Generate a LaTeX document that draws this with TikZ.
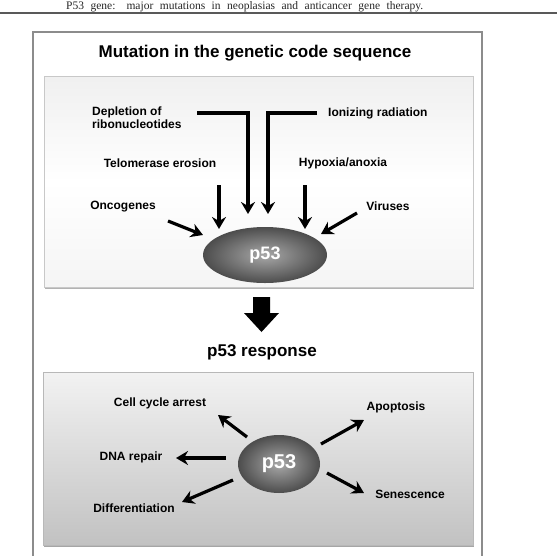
\documentclass[tikz,border=0pt]{standalone}
\usepackage{fontspec}
\setmainfont{Liberation Sans}
\newfontfamily\serifhead{Liberation Serif}
\usetikzlibrary{shapes.geometric,arrows.meta}
\definecolor{framegray}{HTML}{8C8C8C}
\definecolor{panelborder}{HTML}{C8C8C8}
\begin{document}
\begin{tikzpicture}[x=1pt,y=-1pt,
  lbl/.style={font=\fontsize{12}{13.5}\selectfont\bfseries, inner sep=0pt, text=black},
  ttl/.style={font=\fontsize{17}{19}\selectfont\bfseries, inner sep=0pt},
  arr/.style={line width=3.2pt, draw=black, line join=miter,
    -{Stealth[length=12pt,width=14pt,inset=4pt]}},
  pfs/.style={ellipse, inner sep=0pt, text=white, draw=none,
    inner color=gray!68, outer color=black!70}
]
\useasboundingbox (0,0) rectangle (557,555);
\clip (0,0) rectangle (557,555);

% header
\node[anchor=base west, inner sep=0pt, font=\serifhead\fontsize{11.5}{12}\selectfont, text=black!85] (hdr) at (66,9)
  {\makebox[357pt][s]{P53 gene: major mutations in neoplasias and anticancer gene therapy.}};
\draw[line width=1.2pt, draw=black!65] (0,13) -- (557,13);

% outer frame
\draw[line width=1.5pt, draw=framegray] (33,560) -- (33,32) -- (482,32) -- (482,560);

\node[ttl] (title) at (255,53) {Mutation in the genetic code sequence};

% upper panel
\fill[black!30] (45,78) rectangle (474,289);
\shade[top color=black!6, bottom color=black!4, middle color=white, draw=panelborder, line width=0.6pt]
  (44,76) rectangle (473,287);

\node[pfs, minimum width=124pt, minimum height=56pt] (pA) at (265,255)
  {\fontsize{18}{20}\selectfont\bfseries p53};

\node[lbl, anchor=west, align=left] (depl) at (92,117.5) {Depletion of\\ribonucleotides};
\node[lbl, anchor=west] (ion) at (328,113) {Ionizing radiation};
\node[lbl] (telo) at (160,163) {Telomerase erosion};
\node[lbl] (hypo) at (343,163) {Hypoxia/anoxia};
\node[lbl] (onco) at (123,207) {Oncogenes};
\node[lbl] (viru) at (388,206) {Viruses};

\coordinate (d0) at (197,113); \coordinate (d1) at (248,113); \coordinate (d2) at (248,214);
\coordinate (i0) at (317,113); \coordinate (i1) at (268,113); \coordinate (i2) at (268,214);
\coordinate (t0) at (219,185); \coordinate (t1) at (219,229);
\coordinate (h0) at (305,185); \coordinate (h1) at (305,229);
\coordinate (o0) at (168,221); \coordinate (o1) at (203,235);
\coordinate (v0) at (357,213); \coordinate (v1) at (321,234);

\draw[arr] (d0) -- (d1) -- (d2);
\draw[arr] (i0) -- (i1) -- (i2);
\draw[arr] (t0) -- (t1);
\draw[arr] (h0) -- (h1);
\draw[arr] (o0) -- (o1);
\draw[arr] (v0) -- (v1);

% big arrow
\fill[black] (253,297) -- (270,297) -- (270,313) -- (279,313) -- (261.5,332) -- (244,313) -- (253,313) -- cycle;

\node[ttl] (resp) at (262,352) {p53 response};

% lower panel
\fill[black!35] (44,374) rectangle (474,547);
\shade[top color=black!5, bottom color=black!24, draw=black!28, line width=0.6pt]
  (43,372) rectangle (473,545);

\node[pfs, minimum width=82pt, minimum height=58pt] (pB) at (279,464)
  {\fontsize{20}{22}\selectfont\bfseries p53};

\node[lbl] (cca) at (160,403) {Cell cycle arrest};
\node[lbl] (apo) at (396,407) {Apoptosis};
\node[lbl] (dna) at (131,457) {DNA repair};
\node[lbl] (dif) at (134,508) {Differentiation};
\node[lbl] (sen) at (410,494) {Senescence};

\coordinate (c0) at (247,437); \coordinate (c1) at (218,415);
\coordinate (a0) at (321,444); \coordinate (a1) at (364,420);
\coordinate (n0) at (226,458); \coordinate (n1) at (176,458);
\coordinate (f0) at (233,480); \coordinate (f1) at (182,502);
\coordinate (s0) at (327,473); \coordinate (s1) at (364,493);

\draw[arr] (c0) -- (c1);
\draw[arr] (a0) -- (a1);
\draw[arr] (n0) -- (n1);
\draw[arr] (f0) -- (f1);
\draw[arr] (s0) -- (s1);
\end{tikzpicture}
\end{document}
